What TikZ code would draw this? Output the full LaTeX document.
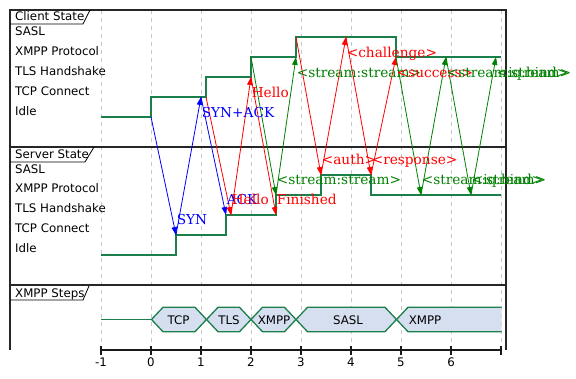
\documentclass[tikz,border=0pt]{standalone}
\usepackage{fontspec}
\setmainfont{DejaVu Serif}
\setsansfont{DejaVu Sans}
\usetikzlibrary{arrows.meta}
\definecolor{sig}{HTML}{1A7F4B}
\definecolor{stepfill}{HTML}{D6DFF0}
\definecolor{arrblue}{HTML}{0000FF}
\definecolor{arrred}{HTML}{FF0000}
\definecolor{arrgreen}{HTML}{008000}
\begin{document}
\begin{tikzpicture}[x=1pt,y=-1pt,
  frame/.style={line width=1.6pt, black!85},
  gridline/.style={gray!45, line width=0.7pt, dash pattern=on 4pt off 4pt},
  tab/.style={line width=0.8pt, black},
  sigline/.style={sig, line width=1.3pt},
  stepbox/.style={sig, fill=stepfill, line width=1.3pt, line join=miter},
  msg/.style={line width=0.8pt, -{Triangle[length=8pt,width=5.5pt]}},
  lvl/.style={font=\fontsize{11.8}{14}\sffamily, anchor=base west, inner sep=0pt},
  steplab/.style={font=\fontsize{11.8}{14}\sffamily, anchor=base, inner sep=0pt},
  msglab/.style={font=\fontsize{13.7}{16}\selectfont, anchor=base west, inner sep=0pt},
  downlab/.style={msglab, yshift=10.5pt, xshift=0.6pt},
  uplab/.style={msglab, yshift=-20.5pt, xshift=0.6pt}
]
\useasboundingbox (0,0) rectangle (576,379);

% grid
\foreach \t in {-1,...,7}
  \draw[gridline] ({151+50*\t},10) -- ({151+50*\t},350);

% frame
\draw[frame] (10,350) -- (10,10) -- (506,10) -- (506,350);
\draw[frame] (10,147) -- (506,147);
\draw[frame] (10,285) -- (506,285);

% tabs
\draw[tab] (10,24) -- (83,24) -- (90,10);
\draw[tab] (10,162) -- (85,162) -- (94,147);
\draw[tab] (10,300) -- (83,300) -- (89,286);
\node[lvl] (tabc) at (15,20.5) {Client State};
\node[lvl] (tabs) at (15,159) {Server State};
\node[lvl] (tabx) at (15,297.3) {XMPP Steps};

% level labels
\node[lvl] (cl1) at (15,35.5) {SASL};
\node[lvl] (cl2) at (15,55.3) {XMPP Protocol};
\node[lvl] (cl3) at (15,75.3) {TLS Handshake};
\node[lvl] (cl4) at (15,95.3) {TCP Connect};
\node[lvl] (cl5) at (15,115.3) {Idle};
\node[lvl] (sl1) at (15,173.3) {SASL};
\node[lvl] (sl2) at (15,192.9) {XMPP Protocol};
\node[lvl] (sl3) at (15,212.9) {TLS Handshake};
\node[lvl] (sl4) at (15,232.9) {TCP Connect};
\node[lvl] (sl5) at (15,252.9) {Idle};

% signals
\draw[sigline] (101,117) -- (151,117) -- (151,97) -- (206,97) -- (206,77) -- (251,77)
  -- (251,57) -- (296,57) -- (296,37) -- (396,37) -- (396,57) -- (501,57);
\draw[sigline] (101,255) -- (176,255) -- (176,235) -- (226,235) -- (226,215) -- (276,215)
  -- (276,195) -- (321,195) -- (321,175) -- (371,175) -- (371,195) -- (501,195);

% message end points
\coordinate (c0) at (151,117);
\coordinate (c1) at (201,97);
\coordinate (c2) at (206,97);
\coordinate (c3) at (251,77);
\coordinate (c4) at (251,57);
\coordinate (c5) at (296,57);
\coordinate (c6) at (296,37);
\coordinate (c7) at (346,37);
\coordinate (c8) at (396,57);
\coordinate (c9) at (446,57);
\coordinate (c10) at (496,57);
\coordinate (s0) at (176,235);
\coordinate (s1) at (226,215);
\coordinate (s2) at (231,215);
\coordinate (s3) at (276,215);
\coordinate (s4) at (276,195);
\coordinate (s5) at (321,175);
\coordinate (s6) at (371,175);
\coordinate (s7) at (421,195);
\coordinate (s8) at (471,195);

% messages
\draw[msg, arrblue] (c0) -- (s0);
\draw[msg, arrblue] (s0) -- (c1);
\draw[msg, arrblue] (c1) -- (s1);
\draw[msg, arrred] (c2) -- (s2);
\draw[msg, arrred] (s2) -- (c3);
\draw[msg, arrred] (c3) -- (s3);
\draw[msg, arrgreen] (c4) -- (s4);
\draw[msg, arrgreen] (s4) -- (c5);
\draw[msg, arrred] (c6) -- (s5);
\draw[msg, arrred] (s5) -- (c7);
\draw[msg, arrred] (c7) -- (s6);
\draw[msg, arrred] (s6) -- (c8);
\draw[msg, arrgreen] (c8) -- (s7);
\draw[msg, arrgreen] (s7) -- (c9);
\draw[msg, arrgreen] (c9) -- (s8);
\draw[msg, arrgreen] (s8) -- (c10);

% message labels
\node[downlab, arrblue] (m1) at (s0) {SYN};
\node[uplab, arrblue] (m2) at (c1) {SYN+ACK};
\node[downlab, arrblue] (m3) at (s1) {ACK};
\node[downlab, arrred] (m4) at (s2) {Hello};
\node[uplab, arrred] (m5) at (c3) {Hello};
\node[downlab, arrred] (m6) at (s3) {Finished};
\node[downlab, arrgreen] (m7) at (s4) {<stream:stream>};
\node[uplab, arrgreen] (m8) at (c5) {<stream:stream>};
\node[downlab, arrred] (m9) at (s5) {<auth>};
\node[uplab, arrred] (m10) at (c7) {<challenge>};
\node[downlab, arrred] (m11) at (s6) {<response>};
\node[uplab, arrred] (m12) at (c8) {<success>};
\node[downlab, arrgreen] (m13) at (s7) {<stream:stream>};
\node[uplab, arrgreen] (m14) at (c9) {<stream:stream>};
\node[downlab, arrgreen] (m15) at (s8) {<iq:bind>};
\node[uplab, arrgreen] (m16) at (c10) {<iq:bind>};

% XMPP steps
\draw[sigline] (101,319.5) -- (151.5,319.5);
\foreach \a/\b in {151.5/206.5, 206.5/251, 251/296, 296/396.5}
  \filldraw[stepbox] (\a,319.5) -- ({\a+11.5},307.3) -- ({\b-11.5},307.3) -- (\b,319.5)
    -- ({\b-11.5},331.7) -- ({\a+11.5},331.7) -- cycle;
\fill[stepfill] (396.5,319.5) -- (408,307.3) -- (501.5,307.3) -- (501.5,331.7) -- (408,331.7) -- cycle;
\draw[sigline, line join=miter] (501.5,307.3) -- (408,307.3) -- (396.5,319.5) -- (408,331.7) -- (501.5,331.7);
\node[steplab] (st1) at (178.5,324.3) {TCP};
\node[steplab] (st2) at (229,324.3) {TLS};
\node[steplab] (st3) at (274,324.3) {XMPP};
\node[steplab] (st4) at (348,324.3) {SASL};
\node[steplab] (st5) at (425,324.3) {XMPP};

% axis
\draw[line width=1.6pt, black!90] (101,350) -- (502,350);
\foreach \t in {-1,...,7}
  \draw[line width=1.4pt, black!90] ({151+50*\t},346.5) -- ({151+50*\t},355);
\foreach \t in {-1,...,6}
  \node[steplab] (tick\t) at ({151+50*\t},366.7) {\t};
\end{tikzpicture}
\end{document}
